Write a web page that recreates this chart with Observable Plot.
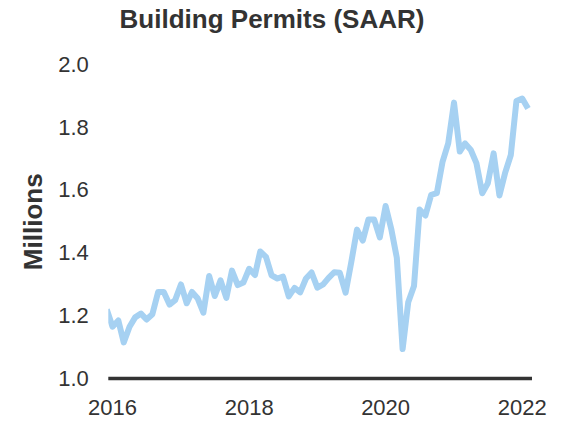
<!DOCTYPE html>
<html>
<head>
<meta charset="utf-8">
<script src="https://cdn.jsdelivr.net/npm/d3@7"></script>
<script src="https://cdn.jsdelivr.net/npm/@observablehq/plot@0.6"></script>
<style>
  html, body { margin: 0; padding: 0; background: #fff; }
  #title {
    width: 544px; height: 38px; line-height: 38px;
    text-align: center;
    font-family: "Liberation Sans", Arial, sans-serif;
    font-weight: bold; font-size: 26px; color: #333;
  }
</style>
</head>
<body>
<div id="title">Building Permits (SAAR)</div>
<div id="chart"></div>
<script>
// Monthly building permits, millions (SAAR)
const v2015 = [1.22]; // Dec only
const v2016 = [1.165, 1.185, 1.115, 1.165, 1.195, 1.207, 1.188, 1.205, 1.276, 1.276, 1.236, 1.25];
const v2017 = [1.30, 1.24, 1.276, 1.255, 1.21, 1.327, 1.263, 1.313, 1.257, 1.344, 1.298, 1.306];
const v2018 = [1.35, 1.33, 1.405, 1.388, 1.329, 1.319, 1.325, 1.262, 1.289, 1.275, 1.319, 1.338];
const v2019 = [1.29, 1.30, 1.32, 1.339, 1.337, 1.274, 1.37, 1.475, 1.44, 1.507, 1.507, 1.45];
const v2020 = [1.55, 1.475, 1.385, 1.094, 1.243, 1.295, 1.539, 1.52, 1.586, 1.591, 1.692, 1.75];
const v2021 = [1.88, 1.724, 1.75, 1.729, 1.687, 1.591, 1.623, 1.718, 1.584, 1.655, 1.713, 1.885];
const v2022 = [1.893, 1.861];

const xTicks = [2016, 2018, 2020, 2022];
const yTicks = [1.0, 1.2, 1.4, 1.6, 1.8, 2.0];

const series = [[2015, 11, v2015], [2016, 0, v2016], [2017, 0, v2017], [2018, 0, v2018],
                [2019, 0, v2019], [2020, 0, v2020], [2021, 0, v2021], [2022, 0, v2022]];
const data = [];
for (const [year, m0, vals] of series) {
  vals.forEach((v, i) => data.push({date: new Date(Date.UTC(year, m0 + i, 1)), value: v}));
}

const font = '"Liberation Sans", Arial, sans-serif';
const chart = Plot.plot({
  width: 565,
  height: 383,
  marginLeft: 108.3,
  marginRight: 33,
  marginTop: 26.5,
  marginBottom: 43,
  style: {fontFamily: font, fontSize: "22px", color: "#333", background: "#fff"},
  x: {
    type: "utc",
    domain: [new Date(Date.UTC(2015, 11, 12)), new Date(Date.UTC(2022, 1, 25))],
    ticks: xTicks.map(y => new Date(Date.UTC(y, 0, 1))),
    tickFormat: d3.utcFormat("%Y"),
    tickSize: 0,
    tickPadding: 21,
    label: null
  },
  y: {
    domain: [1.0, 2.0],
    ticks: yTicks,
    tickFormat: d3.format(".1f"),
    tickSize: 0,
    tickPadding: 20,
    label: null
  },
  marks: [
    Plot.ruleY([1.0], {stroke: "#333", strokeWidth: 3.5}),
    Plot.line(data, {x: "date", y: "value", stroke: "#a6d1f2", strokeWidth: 6, clip: true,
                     strokeLinejoin: "round", strokeLinecap: "butt"}),
    Plot.text(["Millions"], {frameAnchor: "left", dx: -75.3, rotate: -90, text: d => d,
                             fontWeight: "bold", fontSize: 26, fill: "#333", lineAnchor: "middle",
                             textAnchor: "middle"})
  ]
});
document.getElementById("chart").appendChild(chart);
</script>
</body>
</html>
